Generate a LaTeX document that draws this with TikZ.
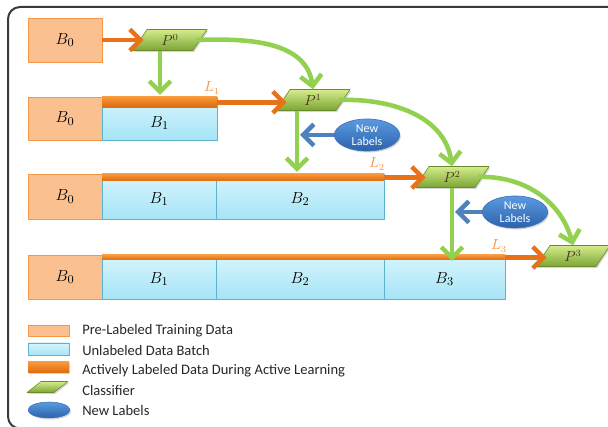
\documentclass[tikz,border=0pt]{standalone}
\usepackage[no-math]{fontspec}
\setmainfont{Carlito}
\usetikzlibrary{arrows.meta,shapes.geometric,shadows,fit}

\definecolor{preFill}{HTML}{FAC090}
\definecolor{preDraw}{HTML}{F79646}
\definecolor{unTop}{HTML}{D6F5FD}
\definecolor{unBot}{HTML}{A6E4F6}
\definecolor{unDraw}{HTML}{5FB2CB}
\definecolor{actTop}{HTML}{F7983C}
\definecolor{actBot}{HTML}{DE6A0C}
\definecolor{arrOrange}{HTML}{E8721A}
\definecolor{arrGreen}{HTML}{92D050}
\definecolor{clsTop}{HTML}{D4EC8C}
\definecolor{clsBot}{HTML}{7BA534}
\definecolor{clsDraw}{HTML}{6B8C2A}
\definecolor{clsText}{HTML}{4A3A14}
\definecolor{nlTop}{HTML}{5A9AE0}
\definecolor{nlBot}{HTML}{2C62AC}
\definecolor{nlDraw}{HTML}{3F74BC}
\definecolor{arrBlue}{HTML}{4F81BD}
\definecolor{lblOrange}{HTML}{F79646}
\definecolor{frameGray}{HTML}{3A3A3A}

\begin{document}
\begin{tikzpicture}[x=0.75pt,y=-0.75pt,line join=round,
  softshadow/.style={general shadow={fill=black,opacity=0.16,shadow xshift=0.9pt,shadow yshift=-1.1pt}},
  prebox/.style={draw=preDraw,fill=preFill,line width=0.6pt,inner sep=0pt,softshadow},
  unbox/.style={draw=unDraw,top color=unTop,bottom color=unBot,line width=0.6pt,inner sep=0pt,softshadow},
  actbar/.style={top color=actTop,bottom color=actBot,draw=none,inner sep=0pt},
  btext/.style={inner sep=0pt,font=\fontsize{12.5}{14}\selectfont},
  plabel/.style={minimum width=39pt,minimum height=15.75pt,inner sep=0pt,text=clsText,
    font=\fontsize{10.5}{12}\selectfont},
  newlab/.style={ellipse,top color=nlTop,bottom color=nlBot,draw=nlDraw,line width=0.5pt,
    minimum width=49pt,minimum height=24pt,inner sep=0pt,align=center,text=white,
    font=\fontsize{9}{10}\selectfont,softshadow},
  llabel/.style={text=lblOrange,inner sep=0pt,font=\fontsize{10.5}{12}\selectfont},
  legtext/.style={anchor=west,inner sep=0pt,font=\fontsize{10.9}{12}\selectfont,text=black!85},
  headtip/.style={-{Straight Barb[length=8pt,width=16pt]}},
  oarrow/.style={draw=arrOrange,line width=3.4pt,headtip},
  garrow/.style={draw=arrGreen,line width=3.4pt,headtip},
  barrow/.style={draw=arrBlue,line width=3.4pt,headtip},
  classifier/.pic={
    \shade[top color=clsTop,bottom color=clsBot,draw=clsDraw,line width=0.5pt,softshadow]
      (-37,10.5) -- (23,10.5) -- (37,-10.5) -- (-23,-10.5) -- cycle;},
  smallcls/.pic={
    \shade[top color=clsTop,bottom color=clsBot,draw=clsDraw,line width=0.4pt,softshadow]
      (-21,5.5) -- (6,5.5) -- (20,-5.5) -- (-7,-5.5) -- cycle;}
]
\useasboundingbox (0,0) rectangle (608,427);

% outer frame
\draw[frameGray,line width=1.5pt,rounded corners=9] (660,7) -- (8,7) -- (8,428.5) -- (660,428.5);

% ---- row 0
\node[prebox,fit={(28,18) (102,62)}] (r0b0) {};
\node[btext] (t00) at (r0b0.center) {$B_0$};

% ---- row 1
\node[prebox,fit={(28,97) (102,140)}] (r1b0) {};
\node[unbox,fit={(102,97) (217,140)}] (r1b1) {};
\node[actbar,fit={(102,97) (217,107.5)}] (bar1) {};
\node[btext] (t10) at (r1b0.center) {$B_0$};
\node[btext] (t11) at (159.5,123) {$B_1$};

% ---- row 2
\node[prebox,fit={(28,174) (102,219)}] (r2b0) {};
\node[unbox,fit={(102,174) (216,219)}] (r2b1) {};
\node[unbox,fit={(216,174) (384,219)}] (r2b2) {};
\node[actbar,fit={(102,174) (384,181)}] (bar2) {};
\node[btext] (t20) at (r2b0.center) {$B_0$};
\node[btext] (t21) at (159,199) {$B_1$};
\node[btext] (t22) at (300,199) {$B_2$};

% ---- row 3
\node[prebox,fit={(28,255) (102,299)}] (r3b0) {};
\node[unbox,fit={(102,255) (216,299)}] (r3b1) {};
\node[unbox,fit={(216,255) (384,299)}] (r3b2) {};
\node[unbox,fit={(384,255) (505,299)}] (r3b3) {};
\node[actbar,fit={(102,255) (505,260)}] (bar3) {};
\node[btext] (t30) at (r3b0.center) {$B_0$};
\node[btext] (t31) at (159,279) {$B_1$};
\node[btext] (t32) at (300,279) {$B_2$};
\node[btext] (t33) at (444.5,279) {$B_3$};

% ---- classifiers
\pic at (170,40) {classifier};
\node[plabel] (p0) at (170,40) {$P^0$};
\pic at (313,100) {classifier};
\node[plabel] (p1) at (313,100) {$P^1$};
\pic at (452,177) {classifier};
\node[plabel] (p2) at (452,177) {$P^2$};
\pic at (573,256) {classifier};
\node[plabel] (p3) at (573,256) {$P^3$};

% ---- new labels
\node[newlab] (nl1) at (367,135) {New\\Labels};
\node[newlab] (nl2) at (515,212) {New\\Labels};

% ---- labelled-set markers
\node[llabel] (l1) at (212,88) {$L_1$};
\node[llabel] (l2) at (377,164) {$L_2$};
\node[llabel] (l3) at (499,246) {$L_3$};

% ---- orange arrows: training data into each classifier
\draw[oarrow] (r0b0.east) -- (p0.west);
\draw[oarrow] (bar1.east) -- (bar1.east -| p1.west);
\draw[oarrow] (bar2.east) -- (bar2.east -| p2.west);
\draw[oarrow] (bar3.east) -- (bar3.east -| p3.west);

% ---- green arrows: classifier selects next batch / passes on
\coordinate (g0) at (160,95);
\coordinate (g1) at (297,172);
\coordinate (g2) at (452,261);
\draw[garrow] (p0.south -| g0) -- (g0);
\draw[garrow] (p1.south -| g1) -- (g1);
\draw[garrow] (p2.south -| g2) -- (g2);
\draw[garrow] (p0.east) to[out=2,in=98] (p1.north);
\draw[garrow] (p1.east) to[out=2,in=98] (p2.north);
\draw[garrow] (p2.east) to[out=2,in=105] (p3.north);

% ---- blue arrows: new labels
\coordinate (h1) at (300,0);
\coordinate (h2) at (455,0);
\draw[barrow] (nl1.west) -- (nl1.west -| h1);
\draw[barrow] (nl2.west) -- (nl2.west -| h2);

% ---- legend
\node[prebox,fit={(28,325) (69,336)}] (k1) {};
\node[unbox,fit={(28,343) (69,355)}] (k2) {};
\node[actbar,softshadow,fit={(28,362) (69,373)}] (k3) {};
\pic at (48,387) {smallcls};
\coordinate (k4) at (48,387);
\node[ellipse,top color=nlTop,bottom color=nlBot,draw=nlDraw,line width=0.4pt,
  minimum width=31.5pt,minimum height=12pt,inner sep=0pt,softshadow] (k5) at (49,410) {};
\node[legtext] (e1) at (82,331) {Pre-Labeled Training Data};
\node[legtext] (e2) at (82,351) {Unlabeled Data Batch};
\node[legtext] (e3) at (82,371) {Actively Labeled Data During Active Learning};
\node[legtext] (e4) at (82,391) {Classifier};
\node[legtext] (e5) at (82,411) {New Labels};
\end{tikzpicture}
\end{document}
